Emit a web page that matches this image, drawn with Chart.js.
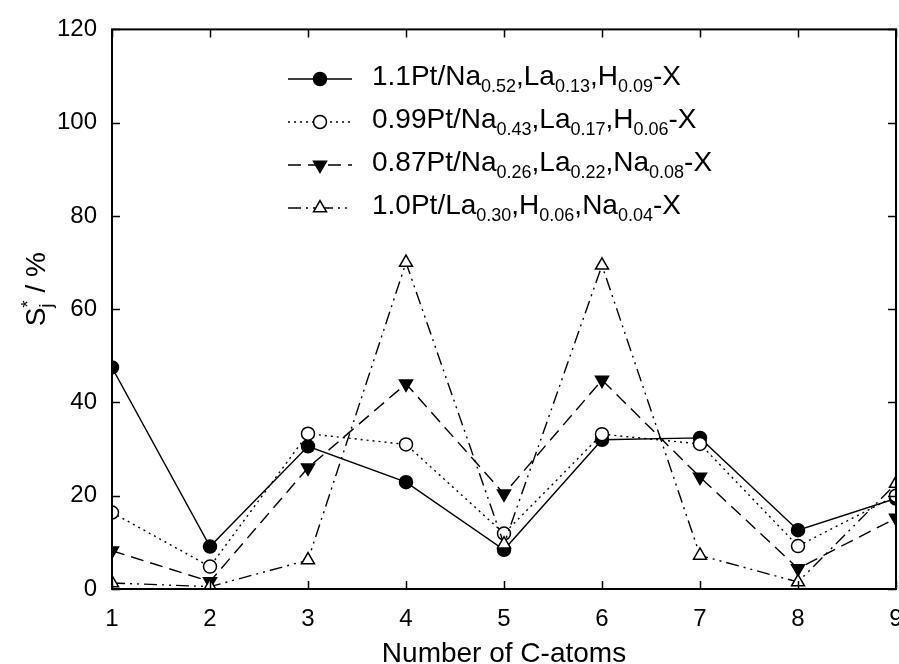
<!DOCTYPE html>
<html>
<head>
<meta charset="utf-8">
<script src="https://cdn.jsdelivr.net/npm/chart.js@4.4.0/dist/chart.umd.min.js"></script>
<style>
  html, body { margin: 0; padding: 0; overflow: hidden; background: #fff; }
  #wrap { width: 930px; height: 664px; }
</style>
</head>
<body>
<div id="wrap"><canvas id="chart" width="930" height="664"></canvas></div>
<script>
const FONT = '"Liberation Sans", Arial, Helvetica, sans-serif';

// selectivity per carbon number
const carbonNumbers = [1, 2, 3, 4, 5, 6, 7, 8, 9];
const yTickValues = [0, 20, 40, 60, 80, 100, 120];
const seriesA = [47.5, 9.1, 30.6, 22.9, 8.4, 32.0, 32.4, 12.6, 19.4];
const seriesB = [16.4, 4.8, 33.3, 31.0, 11.9, 33.2, 31.1, 9.2, 20.0];
const seriesC = [8.2, 1.6, 26.0, 44.0, 20.4, 44.8, 24.0, 4.4, 15.2];
const seriesD = [1.3, 0.5, 6.2, 70.0, 9.6, 69.4, 7.2, 1.5, 22.6];
const seriesLabels = [
  "1.1Pt/Na_{0.52},La_{0.13},H_{0.09}-X",
  "0.99Pt/Na_{0.43},La_{0.17},H_{0.06}-X",
  "0.87Pt/Na_{0.26},La_{0.22},Na_{0.08}-X",
  "1.0Pt/La_{0.30},H_{0.06},Na_{0.04}-X",
];
const xTitle = "Number of C-atoms";

function toPoints(values) {
  return values.map((v, i) => ({ x: carbonNumbers[i], y: v }));
}

function makeDataset(label, values, style) {
  return {
    label,
    data: toPoints(values),
    borderColor: "#000",
    borderWidth: 1.4,
    borderDash: style.dash,
    pointStyle: style.shape,
    rotation: style.rotation || 0,
    pointRadius: style.radius,
    pointBorderWidth: 1.5,
    pointBorderColor: "#000",
    pointBackgroundColor: style.fill,
    tension: 0,
    order: style.order,
  };
}

// text with _{...} parts drawn as subscripts
function drawRichText(ctx, x, y, text, size, subSize, subShift) {
  const parts = text.split(/_\{([^}]*)\}/);
  parts.forEach((part, i) => {
    const isSub = i % 2 === 1;
    ctx.font = `${isSub ? subSize : size}px ${FONT}`;
    ctx.fillText(part, x, isSub ? y + subShift : y);
    x += ctx.measureText(part).width;
  });
  return x;
}

const framePlugin = {
  id: "frame",
  afterDraw(chart) {
    const { ctx, chartArea: a, scales } = chart;
    ctx.save();
    ctx.strokeStyle = "#000";
    ctx.lineWidth = 1.5;
    const tick = 8;
    ctx.beginPath();
    carbonNumbers.forEach((n) => {
      const px = Math.round(scales.x.getPixelForValue(n)) + 0.5;
      ctx.moveTo(px, a.bottom);
      ctx.lineTo(px, a.bottom - tick);
      ctx.moveTo(px, a.top);
      ctx.lineTo(px, a.top + tick);
    });
    yTickValues.forEach((v) => {
      const py = Math.round(scales.y.getPixelForValue(v)) + 0.5;
      ctx.moveTo(a.left, py);
      ctx.lineTo(a.left + tick, py);
      ctx.moveTo(a.right, py);
      ctx.lineTo(a.right - tick, py);
    });
    ctx.stroke();
    ctx.lineWidth = 2;
    ctx.strokeRect(a.left, a.top, a.right - a.left, a.bottom - a.top);

    // x axis title
    ctx.fillStyle = "#000";
    ctx.font = `28px ${FONT}`;
    ctx.textAlign = "center";
    ctx.textBaseline = "alphabetic";
    ctx.fillText(xTitle, (a.left + a.right) / 2, 662);

    // y axis title: S, j subscript, * superscript, " / %"
    ctx.textAlign = "left";
    ctx.translate(45, (a.top + a.bottom) / 2 - 20);
    ctx.rotate(-Math.PI / 2);
    ctx.font = `28px ${FONT}`;
    const wS = ctx.measureText("S").width;
    const wTail = ctx.measureText(" / %").width;
    ctx.font = `19px ${FONT}`;
    const wIdx = Math.max(ctx.measureText("j").width, ctx.measureText("*").width);
    let x = -(wS + wIdx + wTail) / 2;
    ctx.font = `28px ${FONT}`;
    ctx.fillText("S", x, 0);
    x += wS;
    ctx.font = `19px ${FONT}`;
    ctx.fillText("j", x, 7);
    ctx.fillText("*", x, -11);
    x += wIdx;
    ctx.font = `28px ${FONT}`;
    ctx.fillText(" / %", x, 0);
    ctx.restore();
  },
};

const legendPlugin = {
  id: "richLegend",
  afterDraw(chart) {
    const { ctx } = chart;
    const rowY = [79, 122, 165, 208];
    ctx.save();
    chart.data.datasets.forEach((ds, i) => {
      const y = rowY[i];
      ctx.strokeStyle = "#000";
      ctx.lineWidth = ds.borderWidth;
      ctx.setLineDash(ds.borderDash);
      ctx.beginPath();
      ctx.moveTo(288, y);
      ctx.lineTo(352, y);
      ctx.stroke();
      ctx.setLineDash([]);
      ctx.fillStyle = ds.pointBackgroundColor;
      ctx.lineWidth = ds.pointBorderWidth;
      Chart.helpers.drawPoint(ctx, {
        pointStyle: ds.pointStyle,
        rotation: ds.rotation,
        radius: ds.pointRadius,
        borderWidth: ds.pointBorderWidth,
      }, 320, y);
      ctx.fillStyle = "#000";
      ctx.textAlign = "left";
      ctx.textBaseline = "alphabetic";
      drawRichText(ctx, 372, y + 6, ds.label, 28, 18, 7);
    });
    ctx.restore();
  },
};

new Chart(document.getElementById("chart"), {
  type: "line",
  data: {
    datasets: [
      makeDataset(seriesLabels[0], seriesA, { dash: [], shape: "circle", radius: 6.5, fill: "#000", order: 4 }),
      makeDataset(seriesLabels[1], seriesB, { dash: [2, 4], shape: "circle", radius: 6.5, fill: "#fff", order: 3 }),
      makeDataset(seriesLabels[2], seriesC, { dash: [13, 7], shape: "triangle", rotation: 180, radius: 7.5, fill: "#000", order: 2 }),
      makeDataset(seriesLabels[3], seriesD, { dash: [13, 5, 2, 5, 2, 5], shape: "triangle", radius: 7.5, fill: "#fff", order: 1 }),
    ],
  },
  options: {
    responsive: false,
    animation: false,
    layout: { padding: { top: 24, right: 34, bottom: 0, left: 0 } },
    scales: {
      x: {
        type: "linear",
        min: 1,
        max: 9,
        afterFit: (scale) => { scale.height = 75; },
        afterBuildTicks: (scale) => { scale.ticks = carbonNumbers.map((v) => ({ value: v })); },
        grid: { display: false, drawTicks: false },
        border: { display: false },
        ticks: { color: "#000", padding: 16, font: { family: FONT, size: 24 } },
      },
      y: {
        min: 0,
        max: 120,
        afterFit: (scale) => { scale.width = 112; },
        afterBuildTicks: (scale) => { scale.ticks = yTickValues.map((v) => ({ value: v })); },
        grid: { display: false, drawTicks: false },
        border: { display: false },
        ticks: { color: "#000", padding: 15, font: { family: FONT, size: 24 } },
      },
    },
    plugins: {
      legend: { display: false },
      tooltip: { enabled: false },
    },
  },
  plugins: [framePlugin, legendPlugin],
});
</script>
</body>
</html>
